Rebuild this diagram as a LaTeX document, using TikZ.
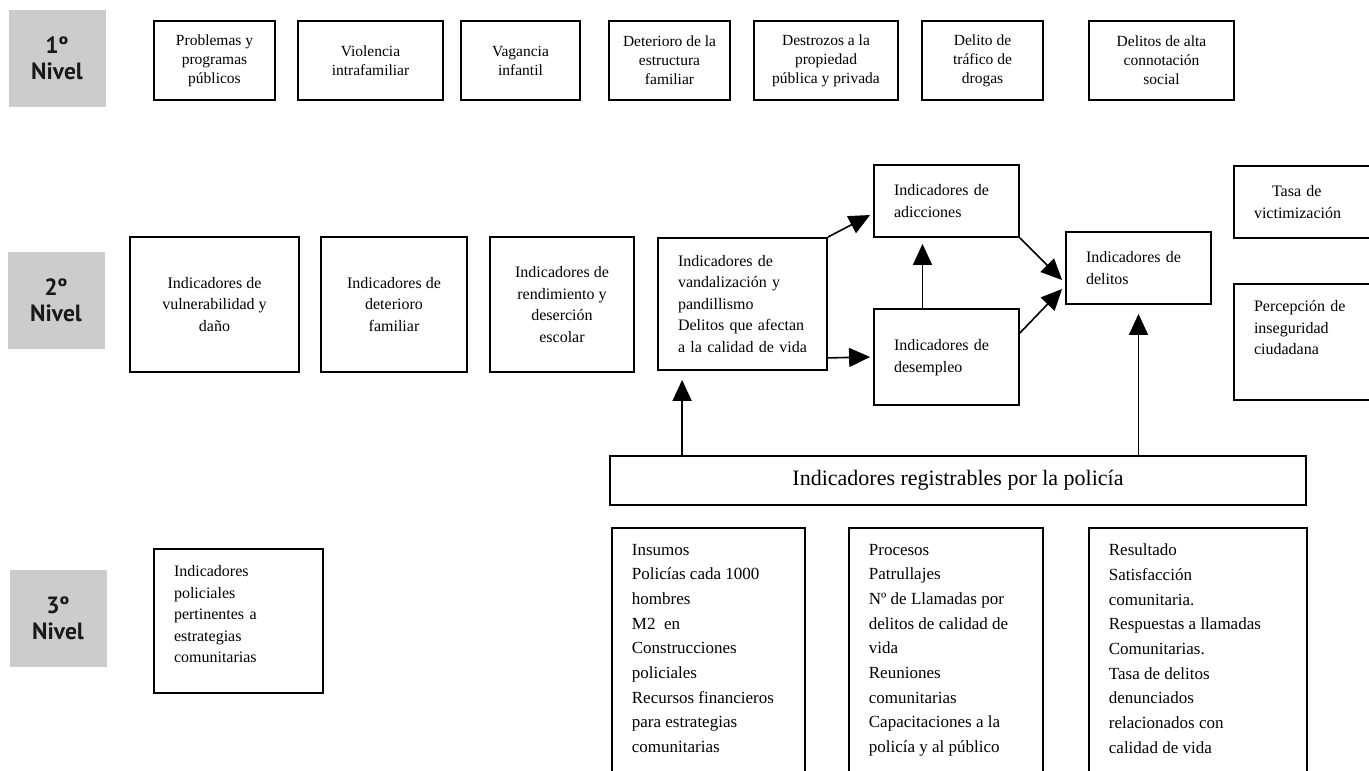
\documentclass[tikz,border=0pt]{standalone}
\usepackage{fontspec}
\setmainfont{Liberation Serif}
\newfontfamily\nivelfont{PT Sans}
\usetikzlibrary{arrows.meta}

\tikzset{
  nivel/.style={fill=gray!40, minimum width=97pt, minimum height=97pt, align=center,
    text=black!90, font=\nivelfont\bfseries\fontsize{23.5}{26}\selectfont},
  caja/.style={draw, line width=1.8pt, inner sep=2pt, align=center},
  cajasup/.style={caja, minimum height=79pt, font=\fontsize{15.5}{19}\selectfont},
  cajamed/.style={caja, font=\fontsize{16}{21.5}\selectfont},
  cajaizq/.style={cajamed, align=left, inner xsep=20pt},
  columna/.style={draw, line width=1.8pt, anchor=north west, inner xsep=20pt,
    inner ysep=16pt, font=\fontsize{17}{24.7}\selectfont},
  flecha/.style={-{Triangle[length=21pt,width=19pt]}, line width=1.6pt},
}

\begin{document}
\begin{tikzpicture}[x=1pt,y=-1pt]
  \useasboundingbox (0,0) rectangle (1369,771);
  \clip (0,0) rectangle (1369,771);

  \node[nivel] (n1) at (57,58.5) {1º\\Nivel};
  \node[nivel] (n2) at (56,300.5) {2º\\Nivel};
  \node[nivel] (n3) at (58,618.5) {3º\\Nivel};

  % primer nivel
  \node[cajasup, minimum width=121pt] (problemas) at (214.5,60.5) {Problemas y\\programas\\públicos};
  \node[cajasup, minimum width=145pt] (violencia) at (370.5,60.5) {Violencia\\intrafamiliar};
  \node[cajasup, minimum width=119pt] (vagancia) at (520.5,60.5) {Vagancia\\infantil};
  \node[cajasup, minimum width=121pt] (estructura) at (669.5,60.5) {Deterioro de la\\estructura\\familiar};
  \node[cajasup, minimum width=144pt] (destrozos) at (826,60.5) {Destrozos a la\\propiedad\\pública y privada};
  \node[cajasup, minimum width=121pt] (trafico) at (982.5,60.5) {Delito de\\tráfico de\\drogas};
  \node[cajasup, minimum width=145pt] (alta) at (1161.5,60.5) {Delitos de alta\\connotación\\social};

  % segundo nivel
  \node[cajamed, minimum width=169pt, minimum height=135pt] (vul) at (214.5,304.5) {Indicadores de\\vulnerabilidad y\\daño};
  \node[cajamed, minimum width=146pt, minimum height=135pt] (famil) at (394,304.5) {Indicadores de\\deterioro\\familiar};
  \node[cajamed, minimum width=144pt, minimum height=135pt] (rend) at (562,304.5) {Indicadores de\\rendimiento y\\deserción\\escolar};
  \node[cajaizq, text width=129pt, minimum height=132pt] (vand) at (742.5,304) {Indicadores de\\vandalización y\\pandillismo\\Delitos que afectan\\a la calidad de vida};
  \node[cajaizq, text width=105pt, minimum height=72pt] (adic) at (946.5,201) {Indicadores de\\adicciones};
  \node[cajaizq, text width=105pt, minimum height=96pt] (desem) at (946.5,357) {\mbox{}\\[-9.5pt]Indicadores de\\desempleo};
  \node[cajaizq, text width=105pt, minimum height=72pt] (delit) at (1138.5,268) {Indicadores de\\delitos};
  \node[cajaizq, text width=106pt, minimum height=72pt] (tasa) at (1307,202) {\hspace*{18pt}Tasa de\\victimización};
  \node[cajaizq, text width=106pt, minimum height=116pt] (perc) at (1307,342) {Percepción de\\inseguridad\\ciudadana\\[7pt]\mbox{}};

  \draw[flecha] (vand.north east) -- ([xshift=-3pt,yshift=-14pt]adic.west);
  \draw[flecha] ([yshift=13pt]vand.south east) -- ([xshift=-3pt]desem.west);
  \draw[flecha] ([xshift=-24pt]desem.north) -- ([xshift=-24pt,yshift=-6pt]adic.south);
  \draw[flecha] (adic.south east) -- ([xshift=-3pt,yshift=-12pt]delit.west);
  \draw[flecha] ([yshift=24pt]desem.east) -- ([xshift=-3pt,yshift=-21pt]delit.west);

  % policia
  \node[caja, minimum width=696pt, minimum height=49pt, font=\fontsize{22}{26}\selectfont] (regis) at (958,480.5) {Indicadores registrables por la policía};
  \draw[flecha] ([xshift=73pt]regis.north west) -- ([xshift=25pt,yshift=-9pt]vand.south west);
  \draw[flecha] (delit.south |- regis.north) -- ([yshift=-9pt]delit.south);

  \node[columna] (insumos) at (611,527) {\parbox[t][260pt][t]{153pt}{\raggedright
    Insumos\\Policías cada 1000\\hombres\\M2 \ en\\Construcciones\\policiales\\Recursos financieros\\para estrategias\\comunitarias}};
  \node[columna] (procesos) at (848,527) {\parbox[t][260pt][t]{154pt}{\raggedright
    Procesos\\Patrullajes\\Nº de Llamadas por\\delitos de calidad de\\vida\\Reuniones\\comunitarias\\Capacitaciones a la\\policía y al público}};
  \node[columna] (resultado) at (1088,527) {\parbox[t][260pt][t]{178pt}{\raggedright
    Resultado\\Satisfacción\\comunitaria.\\Respuestas a llamadas\\Comunitarias.\\Tasa de delitos\\denunciados\\relacionados con\\calidad de vida}};

  % tercer nivel
  \node[cajaizq, text width=129pt, minimum height=144pt] (polic) at (238.5,621) {Indicadores\\policiales\\pertinentes a\\estrategias\\comunitarias\\[-7.5pt]\mbox{}};
\end{tikzpicture}
\end{document}
